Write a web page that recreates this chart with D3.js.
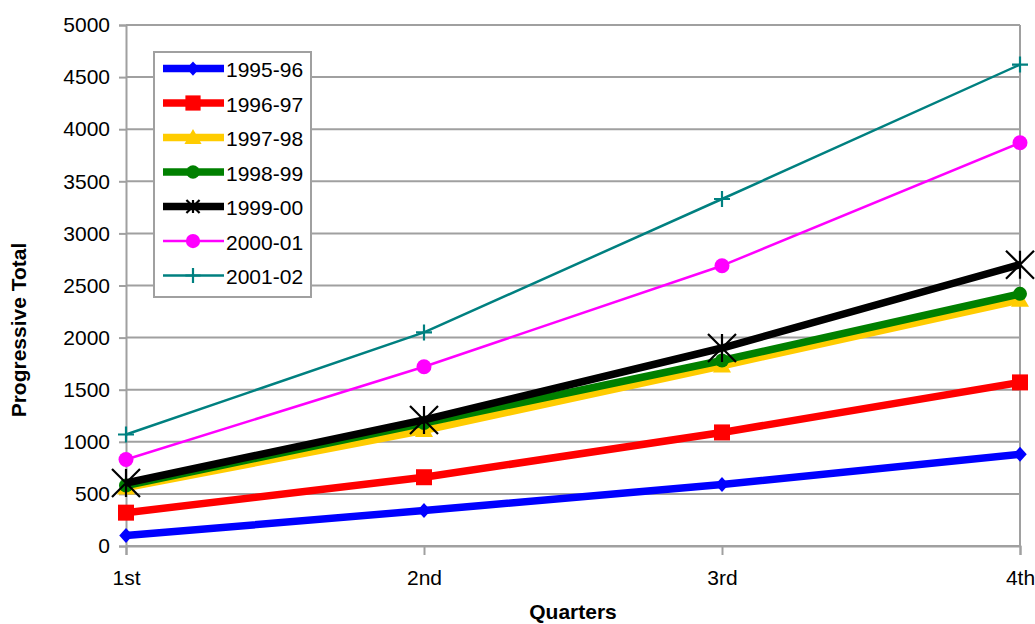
<!DOCTYPE html>
<html>
<head>
<meta charset="utf-8">
<script src="https://cdn.jsdelivr.net/npm/d3@7"></script>
<style>
  html, body { margin: 0; padding: 0; background: #fff; }
  svg { display: block; font-family: "Liberation Sans", Arial, sans-serif; }
</style>
</head>
<body>
<svg id="chart" width="1035" height="624"></svg>
<script>
// Quarterly progressive totals per financial year
const quarters = ["1st", "2nd", "3rd", "4th"];
const yTicks = [0, 500, 1000, 1500, 2000, 2500, 3000, 3500, 4000, 4500, 5000];

const s1995_96 = [100, 340, 590, 880];
const s1996_97 = [320, 660, 1090, 1570];
const s1997_98 = [560, 1110, 1730, 2360];
const s1998_99 = [580, 1180, 1780, 2420];
const s1999_00 = [605, 1210, 1900, 2700];
const s2000_01 = [830, 1720, 2690, 3870];
const s2001_02 = [1070, 2050, 3330, 4620];

const seriesNames = ["1995-96", "1996-97", "1997-98", "1998-99", "1999-00", "2000-01", "2001-02"];
const seriesValues = [s1995_96, s1996_97, s1997_98, s1998_99, s1999_00, s2000_01, s2001_02];

const styles = [
  { color: "#0000FF", width: 7.5, marker: "diamond", size: 7.5 },
  { color: "#FF0000", width: 7.5, marker: "square", size: 8 },
  { color: "#FFCC00", width: 7.5, marker: "triangle", size: 9 },
  { color: "#008000", width: 7.5, marker: "circle", size: 7 },
  { color: "#000000", width: 7.5, marker: "star", size: 14 },
  { color: "#FF00FF", width: 2.5, marker: "circle", size: 7.5 },
  { color: "#008080", width: 2.5, marker: "plus", size: 8 }
];

const svg = d3.select("#chart");
const margin = { left: 126, right: 15, top: 25, bottom: 78 };
const W = 1035, H = 624;
const FS = 21;

const x = d3.scalePoint().domain(quarters).range([margin.left, W - margin.right]);
const y = d3.scaleLinear().domain([0, 5000]).range([H - margin.bottom, margin.top]);

const grid = "#a0a0a0";

// horizontal gridlines
svg.append("g")
  .selectAll("line")
  .data(yTicks)
  .join("line")
  .attr("x1", margin.left).attr("x2", W - margin.right)
  .attr("y1", d => y(d)).attr("y2", d => y(d))
  .attr("stroke", grid).attr("stroke-width", 2);

// right border of plot area
svg.append("line")
  .attr("x1", W - margin.right).attr("x2", W - margin.right)
  .attr("y1", y(5000)).attr("y2", y(0))
  .attr("stroke", grid).attr("stroke-width", 2);

// y axis
const yAxis = svg.append("g")
  .attr("transform", `translate(${margin.left},0)`)
  .call(d3.axisLeft(y).tickValues(yTicks).tickSize(7).tickPadding(9).tickFormat(d3.format("d")));
yAxis.select(".domain").attr("stroke", grid).attr("stroke-width", 2);
yAxis.selectAll(".tick line").attr("stroke", grid).attr("stroke-width", 2);
yAxis.selectAll("text").attr("font-size", FS).attr("fill", "#000")
  .attr("font-family", "Liberation Sans, Arial, sans-serif");

// x axis
const xAxis = svg.append("g")
  .attr("transform", `translate(0,${y(0)})`)
  .call(d3.axisBottom(x).tickSize(9).tickPadding(15));
xAxis.select(".domain").attr("stroke", grid).attr("stroke-width", 2);
xAxis.selectAll(".tick line").attr("stroke", grid).attr("stroke-width", 2);
xAxis.selectAll("text").attr("font-size", FS).attr("fill", "#000")
  .attr("font-family", "Liberation Sans, Arial, sans-serif");

// axis titles
svg.append("text")
  .attr("x", 573).attr("y", 619)
  .attr("text-anchor", "middle").attr("font-size", FS).attr("font-weight", "bold")
  .text("Quarters");
svg.append("text")
  .attr("transform", `translate(26,330) rotate(-90)`)
  .attr("text-anchor", "middle").attr("font-size", FS).attr("font-weight", "bold")
  .text("Progressive Total");

// marker drawing
function drawMarker(g, st, cx, cy, scale) {
  const s = st.size * scale;
  if (st.marker === "diamond") {
    g.append("path").attr("d", `M${cx},${cy - s}L${cx + s * 0.9},${cy}L${cx},${cy + s}L${cx - s * 0.9},${cy}Z`)
      .attr("fill", st.color);
  } else if (st.marker === "square") {
    g.append("rect").attr("x", cx - s).attr("y", cy - s).attr("width", 2 * s).attr("height", 2 * s)
      .attr("fill", st.color);
  } else if (st.marker === "triangle") {
    g.append("path").attr("d", `M${cx},${cy - s}L${cx + s},${cy + s * 0.75}L${cx - s},${cy + s * 0.75}Z`)
      .attr("fill", st.color);
  } else if (st.marker === "circle") {
    g.append("circle").attr("cx", cx).attr("cy", cy).attr("r", s).attr("fill", st.color);
  } else if (st.marker === "star") {
    g.append("path")
      .attr("d", `M${cx - s},${cy - s}L${cx + s},${cy + s}M${cx - s},${cy + s}L${cx + s},${cy - s}M${cx},${cy - s}L${cx},${cy + s}`)
      .attr("stroke", st.color).attr("stroke-width", 2.2).attr("fill", "none");
  } else if (st.marker === "plus") {
    g.append("path")
      .attr("d", `M${cx - s},${cy}L${cx + s},${cy}M${cx},${cy - s}L${cx},${cy + s}`)
      .attr("stroke", st.color).attr("stroke-width", 2.2).attr("fill", "none");
  }
}

// series lines and markers
const line = d3.line().x((d, i) => x(quarters[i])).y(d => y(d));
seriesValues.forEach((vals, k) => {
  const st = styles[k];
  const g = svg.append("g");
  g.append("path").datum(vals).attr("d", line)
    .attr("fill", "none").attr("stroke", st.color).attr("stroke-width", st.width)
    .attr("stroke-linejoin", "round");
  vals.forEach((v, i) => drawMarker(g, st, x(quarters[i]), y(v), 1));
});

// legend
const lg = svg.append("g");
lg.append("rect").attr("x", 154).attr("y", 52).attr("width", 157).attr("height", 245)
  .attr("fill", "#fff").attr("stroke", grid).attr("stroke-width", 2);
seriesNames.forEach((name, k) => {
  const st = styles[k];
  const cy = 68.5 + k * 34.5;
  lg.append("line").attr("x1", 163).attr("x2", 224).attr("y1", cy).attr("y2", cy)
    .attr("stroke", st.color).attr("stroke-width", st.width);
  drawMarker(lg, st, 193, cy, st.marker === "star" ? 0.47 : 0.95);
  lg.append("text").attr("x", 226).attr("y", cy + 8.5).attr("font-size", FS).text(name);
});
</script>
</body>
</html>
